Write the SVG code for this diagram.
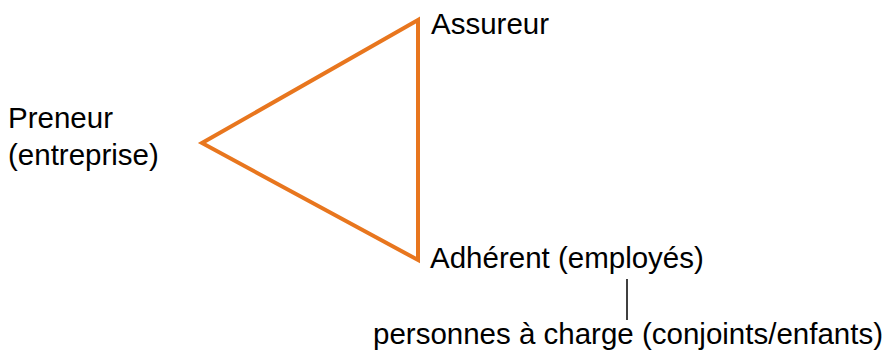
<svg xmlns="http://www.w3.org/2000/svg" width="883" height="352" viewBox="0 0 883 352">
<style>
.t{font-family:"Liberation Sans",Arial,sans-serif;font-size:29.5px;fill:#000}
.tri{fill:none;stroke:#E8761E;stroke-width:4;stroke-linejoin:miter}
.ln{stroke:#000;stroke-width:1.5}
</style>
<rect width="883" height="352" fill="#fff"/>
<g id="connectors">
<polygon class="tri" points="418,20 202,143 418,260"/>
<line class="ln" x1="627" y1="279" x2="627" y2="320"/>
</g>
<g id="assureur"><text class="t" x="431" y="34">Assureur</text></g>
<g id="preneur"><text class="t" x="8" y="128">Preneur</text><text class="t" x="8" y="165">(entreprise)</text></g>
<g id="adherent"><text class="t" x="430" y="268">Adhérent (employés)</text></g>
<g id="personnes"><text class="t" x="373" y="344">personnes à charge (conjoints/enfants)</text></g>
</svg>
